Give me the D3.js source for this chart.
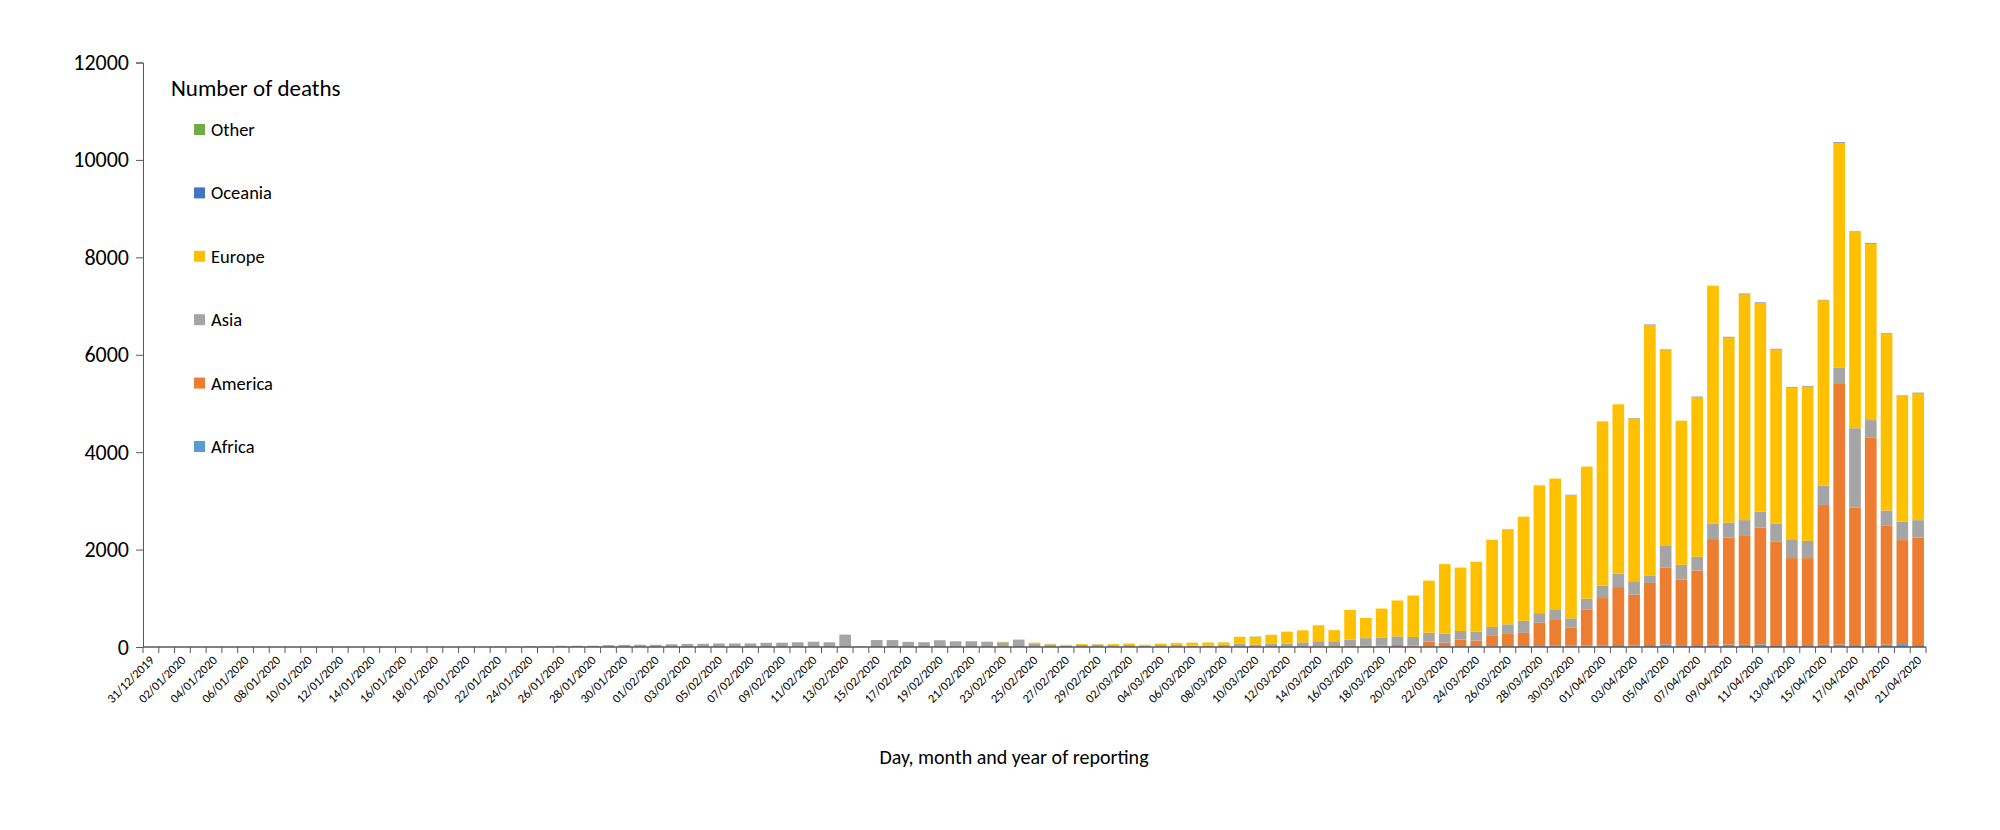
<!DOCTYPE html>
<html><head><meta charset="utf-8">
<script src="https://cdn.jsdelivr.net/npm/d3@7"></script>
<style>body{margin:0;background:#fff;}text{font-family:Carlito,Lato,"Open Sans",sans-serif;}</style>
</head><body><svg id="c" width="2000" height="830"></svg>
<script>
function sparse(n, m){const a=new Array(n).fill(0);for(const k in m)a[+k]=m[k];return a;}
const N=113;
const start=new Date(2019,11,31);
const dates=d3.range(N).map(i=>d3.timeFormat("%d/%m/%Y")(d3.timeDay.offset(start,i)));
const seriesNames=["Africa","America","Asia","Europe","Oceania","Other"];
const legendOrder=["Other","Oceania","Europe","Asia","America","Africa"];
const colors={Africa:"#5B9BD5",America:"#ED7D31",Asia:"#A5A5A5",Europe:"#FFC000",Oceania:"#4472C4",Other:"#70AD47"};
const yTicks=[0,2000,4000,6000,8000,10000,12000];

const africa=sparse(N,{73:2,74:3,75:3,76:4,77:5,78:5,79:6,80:8,81:10,82:9,83:12,84:15,85:12,86:18,87:20,88:22,89:25,90:30,91:28,92:35,93:40,94:30,95:40,96:55,97:38,98:40,99:45,100:50,101:45,102:55,103:42,104:40,105:40,106:45,107:50,108:42,109:40,110:48,111:60,112:40});
const america=sparse(N,{61:3,62:2,63:1,64:3,65:10,66:2,67:4,68:10,69:5,70:8,71:5,72:8,73:10,74:12,75:15,76:18,77:20,78:25,79:35,80:20,81:100,82:80,83:140,84:115,85:230,86:250,87:270,88:475,89:530,90:365,91:745,92:970,93:1190,94:1045,95:1275,96:1580,97:1345,98:1530,99:2170,100:2200,101:2235,102:2400,103:2125,104:1785,105:1785,106:2870,107:5350,108:2820,109:4265,110:2450,111:2135,112:2210});
const asia=sparse(N,{11:1,17:1,19:1,20:3,21:3,22:11,23:8,24:16,25:15,26:24,27:26,28:26,29:38,30:43,31:46,32:45,33:57,34:64,35:66,36:73,37:73,38:73,39:86,40:89,41:97,42:108,43:97,44:254,45:13,46:143,47:142,48:106,49:98,50:139,51:115,52:118,53:109,54:97,55:150,56:71,57:52,58:29,59:44,60:47,61:35,62:42,63:31,64:36,65:35,66:28,67:29,68:35,69:60,70:45,71:60,72:60,73:85,74:105,75:100,76:130,77:156,78:157,79:177,80:177,81:184,82:184,83:177,84:184,85:170,86:198,87:248,88:198,89:220,90:192,91:219,92:255,93:276,94:276,95:156,96:439,97:304,98:283,99:319,100:305,101:325,102:325,103:369,104:389,105:354,106:396,107:340,108:1629,109:354,110:305,111:382,112:354});
const europe=sparse(N,{46:1,53:1,54:10,56:20,57:12,58:15,59:18,60:12,61:20,62:25,63:15,64:30,65:40,66:60,67:60,68:50,69:145,70:155,71:185,72:248,73:245,74:325,75:228,76:610,77:417,78:602,79:737,80:850,81:1069,82:1430,83:1302,84:1431,85:1791,86:1954,87:2138,88:2619,89:2683,90:2534,91:2712,92:3363,93:3476,94:3342,95:5140,96:4022,97:2959,98:3278,99:4885,100:3802,101:4638,102:4284,103:3575,104:3115,105:3171,106:3809,107:4616,108:4028,109:3625,110:3625,111:2577,112:2606});
const oceania=sparse(N,{62:1,70:1,80:1,84:2,88:3,90:4,92:5,94:6,95:8,96:10,98:8,100:10,101:12,102:10,103:10,104:8,105:10,106:6,107:12,108:10,109:12,110:10,111:8,112:10});
const other=sparse(N,{51:2,55:1,57:1,60:2,62:1,70:6,73:1});

const rows=dates.map((d,i)=>({date:d,Africa:africa[i],America:america[i],Asia:asia[i],Europe:europe[i],Oceania:oceania[i],Other:other[i]}));
const stack=d3.stack().keys(seriesNames)(rows);

const svg=d3.select("#c");
const L=143,R=1926,T=62.5,B=647;
const x=d3.scaleBand().domain(dates).range([L,R]).paddingInner(0.26).paddingOuter(0.13);
const y=d3.scaleLinear().domain([0,12000]).range([B,T]);

svg.append("g").selectAll("g").data(stack).join("g").attr("fill",d=>colors[d.key])
 .selectAll("rect").data(d=>d).join("rect")
 .attr("x",d=>x(d.data.date)).attr("width",x.bandwidth())
 .attr("y",d=>y(d[1])).attr("height",d=>Math.max(0,y(d[0])-y(d[1])));

const ya=svg.append("g").attr("transform",`translate(${L},0)`).call(d3.axisLeft(y).tickValues(yTicks).tickSize(7).tickFormat(d3.format("d")));
ya.selectAll("path,line").attr("stroke","#595959");
ya.selectAll("text").attr("font-size",22).attr("fill","#000").attr("dx",-4);

const step=(R-L)/N;
const xa=svg.append("g").attr("transform",`translate(0,${B})`);
xa.append("line").attr("x1",L).attr("x2",R).attr("stroke","#595959").attr("stroke-width",1.5);
xa.selectAll("line.t").data(d3.range(N+1)).join("line").attr("class","t")
 .attr("x1",i=>L+i*step).attr("x2",i=>L+i*step).attr("y1",0).attr("y2",6).attr("stroke","#595959");
xa.selectAll("text").data(dates.filter((d,i)=>i%2===0)).join("text")
 .attr("transform",d=>`translate(${x(d)+x.bandwidth()/2+4},14) rotate(-45)`)
 .attr("text-anchor","end").attr("font-size",12.5).attr("fill","#000").text(d=>d);

svg.append("text").attr("x",1014).attr("y",764).attr("text-anchor","middle").attr("font-size",20).text("Day, month and year of reporting");
svg.append("text").attr("x",171).attr("y",96).attr("font-size",23).text("Number of deaths");
const lg=svg.append("g").selectAll("g").data(legendOrder).join("g")
 .attr("transform",(d,i)=>`translate(194,${129+i*63.4})`);
lg.append("rect").attr("x",0).attr("y",-5).attr("width",11).attr("height",11).attr("fill",d=>colors[d]);
lg.append("text").attr("x",17).attr("y",7).attr("font-size",18.5).text(d=>d);
</script></body></html>
